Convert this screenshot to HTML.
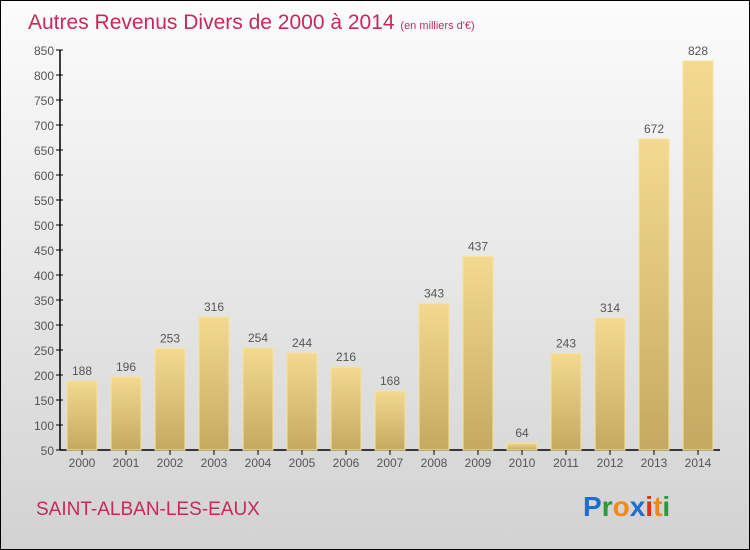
<!DOCTYPE html>
<html><head><meta charset="utf-8"><style>
html,body{margin:0;padding:0}
body{width:750px;height:550px;overflow:hidden;font-family:"Liberation Sans",sans-serif}
#wrap{position:absolute;left:0;top:0;width:748px;height:548px;border:1px solid #000;background:linear-gradient(#fcfcfc,#d2d2d2)}
</style></head><body>
<div id="wrap">
<svg id="chart" width="750" height="550" style="position:absolute;left:-1px;top:-1px">
<defs><linearGradient id="bg" x1="0" y1="0" x2="0" y2="1"><stop offset="0" stop-color="#f3da90"/><stop offset="1" stop-color="#c4a963"/></linearGradient></defs>
<text x="28" y="29" font-size="21" fill="#c8285a">Autres Revenus Divers de 2000 à 2014 <tspan font-size="11">(en milliers d'€)</tspan></text>
<text x="36" y="515" font-size="19" fill="#c8285a">SAINT-ALBAN-LES-EAUX</text>
<g font-size="28" font-weight="bold" font-family="Liberation Sans, sans-serif">
<text x="583" y="516"><tspan fill="#1a6fcf">P</tspan><tspan fill="#2a9a3a">r</tspan><tspan fill="#f08a10">o</tspan><tspan fill="#1a6fcf">x</tspan><tspan fill="#e03010">i</tspan><tspan fill="#f08a10">t</tspan><tspan fill="#2a9a3a">i</tspan></text>
</g>
<g id="plot"></g>
</svg>
</div>
<script>
const years=["2000","2001","2002","2003","2004","2005","2006","2007","2008","2009","2010","2011","2012","2013","2014"];
const values=[188,196,253,316,254,244,216,168,343,437,64,243,314,672,828];
const yTicks=[50,100,150,200,250,300,350,400,450,500,550,600,650,700,750,800,850];
const NS="http://www.w3.org/2000/svg";
const g=document.getElementById('plot');
function y(v){return 450-(v-50)*0.5;}
function x(i){return 82+i*44;}
function mk(t,a){const e=document.createElementNS(NS,t);for(const k in a)e.setAttribute(k,a[k]);g.appendChild(e);return e;}
const ax=mk('line',{x1:60,y1:y(850),x2:60,y2:450,stroke:'#000','stroke-width':1.5});


const bx=mk('line',{x1:60,y1:450,x2:720,y2:450,stroke:'#000','stroke-width':1.5});


yTicks.forEach(v=>{
 const t=mk('line',{x1:56,x2:63,y1:y(v),y2:y(v),stroke:'#000'});
 
 
 const l=mk('text',{x:54,y:y(v)+5,'text-anchor':'end','font-size':12,fill:'#555'});
 l.textContent=v;
 
 
});
years.forEach((yr,i)=>{
 const v=values[i];
 const r=mk('rect',{x:x(i)-15,y:y(v),width:30,height:450-y(v),fill:'url(#bg)',stroke:'#f6e49a','stroke-width':1});
 
 
 const tk=mk('line',{x1:x(i),x2:x(i),y1:450,y2:455,stroke:'#000'});
 
 
 const xl=mk('text',{x:x(i),y:467,'text-anchor':'middle','font-size':12,fill:'#555'});
 xl.textContent=yr;
 
 
 const vl=mk('text',{x:x(i),y:y(v)-6,'text-anchor':'middle','font-size':12,fill:'#555'});
 vl.textContent=v;
 
 
});
</script>
</body></html>
